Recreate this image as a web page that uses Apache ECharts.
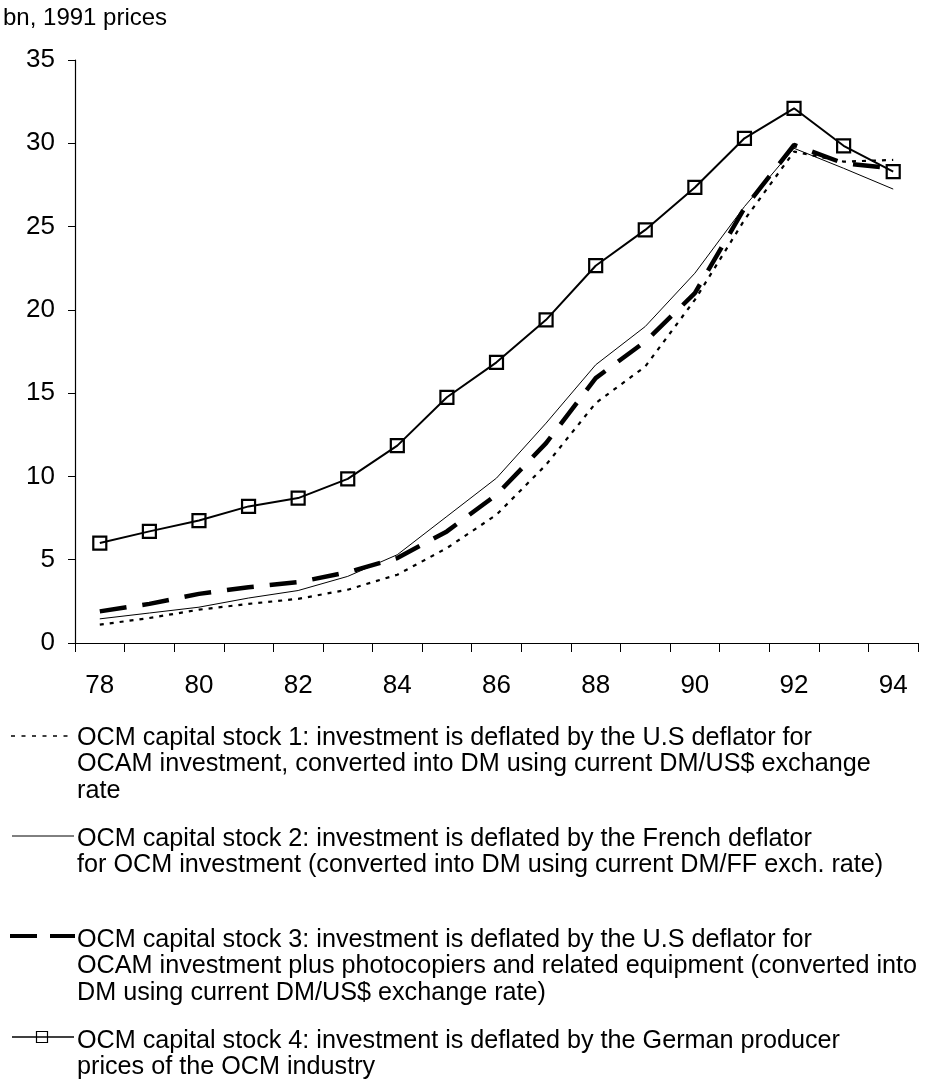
<!DOCTYPE html>
<html>
<head>
<meta charset="utf-8">
<script src="https://cdn.jsdelivr.net/npm/echarts@6/dist/echarts.min.js"></script>
<style>
html,body{margin:0;padding:0;background:#fff;}
#chart{width:944px;height:1082px;}
</style>
</head>
<body>
<div id="chart"></div>
<script>
const years = ['78','79','80','81','82','83','84','85','86','87','88','89','90','91','92','93','94'];
const stock1 = [1.1, 1.5, 2.0, 2.35, 2.65, 3.2, 4.1, 5.7, 7.7, 10.7, 14.4, 16.6, 20.6, 25.4, 29.5, 28.9, 29.0];
const stock2 = [1.45, 1.8, 2.15, 2.7, 3.15, 4.0, 5.3, 7.6, 9.9, 13.2, 16.7, 19.0, 22.2, 26.2, 29.7, 28.5, 27.25];
const stock3 = [1.9, 2.35, 2.95, 3.35, 3.65, 4.25, 5.1, 6.7, 8.9, 12.0, 15.9, 18.1, 21.0, 26.1, 29.9, 28.8, 28.5];
const stock4 = [6.0, 6.7, 7.35, 8.2, 8.7, 9.85, 11.85, 14.75, 16.85, 19.4, 22.65, 24.8, 27.35, 30.3, 32.1, 29.85, 28.3];
const unitLabel = 'bn, 1991 prices';
const legendTexts = [
  'OCM capital stock 1: investment is deflated by the U.S deflator for\nOCAM investment, converted into DM using current DM/US$ exchange\nrate',
  'OCM capital stock 2: investment is deflated by the French deflator\nfor OCM investment (converted into DM using current DM/FF exch. rate)',
  'OCM capital stock 3: investment is deflated by the U.S deflator for\nOCAM investment plus photocopiers and related equipment (converted into\nDM using current DM/US$ exchange rate)',
  'OCM capital stock 4: investment is deflated by the German producer\nprices of the OCM industry'
];

const FONT = '"Liberation Sans", Arial, Helvetica, sans-serif';
const chart = echarts.init(document.getElementById('chart'), null, {renderer: 'canvas'});

const legendY = [738, 839, 940, 1041];
const LH = 26.5;
const graphics = [
  {type: 'text', left: 3, top: 6, style: {text: unitLabel, font: '24px ' + FONT, fill: '#000'}},
];
legendTexts.forEach((t, i) => {
  graphics.push({type: 'text', x: 77, y: legendY[i] - LH / 2,
    style: {text: t, font: '25.2px ' + FONT, fill: '#000', lineHeight: LH, verticalAlign: 'top', align: 'left'}});
});
// legend samples
graphics.push({type: 'line', shape: {x1: 11, y1: legendY[0] - 2, x2: 74, y2: legendY[0] - 2},
  style: {stroke: '#000', lineWidth: 1.6, lineDash: [4, 6.5]}});
graphics.push({type: 'line', shape: {x1: 12, y1: legendY[1] - 3, x2: 74, y2: legendY[1] - 3},
  style: {stroke: '#000', lineWidth: 1}});
graphics.push({type: 'line', shape: {x1: 10, y1: legendY[2] - 4, x2: 75, y2: legendY[2] - 4},
  style: {stroke: '#000', lineWidth: 4, lineDash: [27, 13]}});
graphics.push({type: 'line', shape: {x1: 12, y1: legendY[3] - 4, x2: 74, y2: legendY[3] - 4},
  style: {stroke: '#000', lineWidth: 1.5}});
graphics.push({type: 'rect', shape: {x: 36.5, y: legendY[3] - 9.5, width: 11, height: 11},
  style: {stroke: '#000', lineWidth: 1.2, fill: 'rgba(0,0,0,0)'}});

chart.setOption({
  animation: false,
  backgroundColor: '#fff',
  textStyle: {fontFamily: FONT},
  grid: {left: 75, right: 26, top: 60, bottom: 439, containLabel: false, outerBoundsMode: 'none'},
  xAxis: {
    type: 'category',
    data: years,
    boundaryGap: true,
    axisLine: {lineStyle: {color: '#000', width: 1.2}},
    axisTick: {show: true, interval: 0, alignWithLabel: false, length: 9, lineStyle: {color: '#000'}},
    axisLabel: {interval: 1, margin: 30, fontSize: 26, color: '#000', fontFamily: FONT},
    splitLine: {show: false}
  },
  yAxis: {
    type: 'value',
    min: 0, max: 35, interval: 5,
    axisLine: {show: true, lineStyle: {color: '#000', width: 1.2}},
    axisTick: {show: true, length: 7, lineStyle: {color: '#000'}},
    axisLabel: {margin: 20, fontSize: 26, color: '#000', fontFamily: FONT},
    splitLine: {show: false}
  },
  series: [
    {name: 'OCM capital stock 1', type: 'line', data: stock1, symbol: 'none',
     lineStyle: {color: '#000', width: 2.2, type: [4, 6]}},
    {name: 'OCM capital stock 2', type: 'line', data: stock2, symbol: 'none',
     lineStyle: {color: '#000', width: 1}},
    {name: 'OCM capital stock 3', type: 'line', data: stock3, symbol: 'none',
     lineStyle: {color: '#000', width: 4.5, type: [27, 16]}},
    {name: 'OCM capital stock 4', type: 'line', data: stock4, symbol: 'rect', symbolSize: 13,
     lineStyle: {color: '#000', width: 2},
     itemStyle: {color: 'rgba(0,0,0,0)', borderColor: '#000', borderWidth: 2.2}}
  ],
  graphic: graphics
});
</script>
</body>
</html>
